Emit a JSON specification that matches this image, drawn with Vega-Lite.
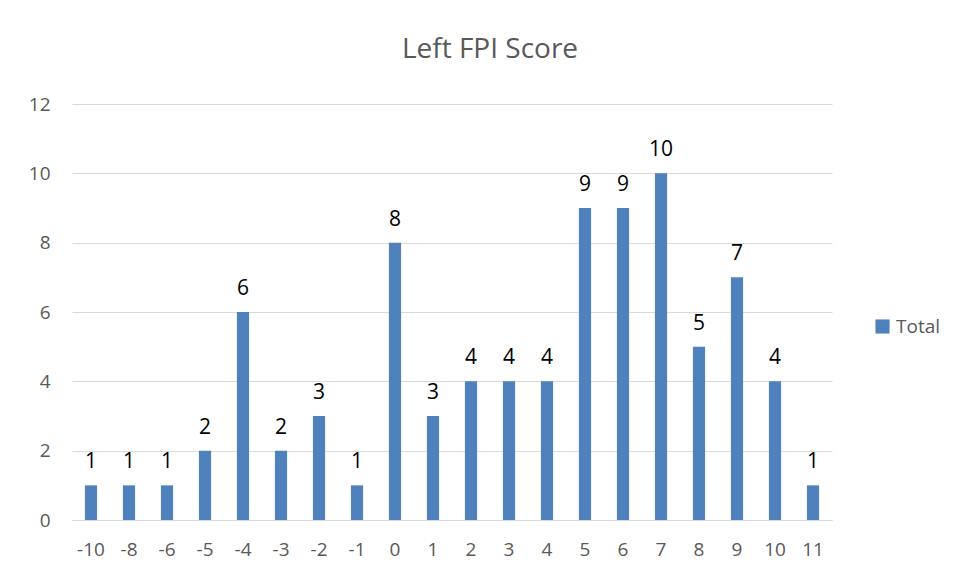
{
  "$schema": "https://vega.github.io/schema/vega-lite/v6.json",
  "width": 760,
  "height": 416,
  "autosize": {"type": "none"},
  "padding": {"left": 72, "top": 104, "right": 125, "bottom": 58},
  "background": "white",
  "config": {"view": {"stroke": null}, "font": "Open Sans"},
  "title": {"text": "Left FPI Score", "fontSize": 28, "font": "Open Sans", "fontWeight": "normal", "color": "#595959", "anchor": "middle", "offset": 31, "dx": 38},
  "data": {"values": [
    {"score": "-10", "count": 1, "series": "Total"},
    {"score": "-8", "count": 1, "series": "Total"},
    {"score": "-6", "count": 1, "series": "Total"},
    {"score": "-5", "count": 2, "series": "Total"},
    {"score": "-4", "count": 6, "series": "Total"},
    {"score": "-3", "count": 2, "series": "Total"},
    {"score": "-2", "count": 3, "series": "Total"},
    {"score": "-1", "count": 1, "series": "Total"},
    {"score": "0", "count": 8, "series": "Total"},
    {"score": "1", "count": 3, "series": "Total"},
    {"score": "2", "count": 4, "series": "Total"},
    {"score": "3", "count": 4, "series": "Total"},
    {"score": "4", "count": 4, "series": "Total"},
    {"score": "5", "count": 9, "series": "Total"},
    {"score": "6", "count": 9, "series": "Total"},
    {"score": "7", "count": 10, "series": "Total"},
    {"score": "8", "count": 5, "series": "Total"},
    {"score": "9", "count": 7, "series": "Total"},
    {"score": "10", "count": 4, "series": "Total"},
    {"score": "11", "count": 1, "series": "Total"}
  ]},
  "encoding": {
    "x": {"field": "score", "type": "ordinal", "sort": null,
      "scale": {"paddingInner": 0.68, "paddingOuter": 0.34},
      "axis": {"title": null, "labelAngle": 0, "labelFontSize": 19, "labelColor": "#595959", "ticks": false, "domainColor": "#d9d9d9", "labelPadding": 20, "labelFont": "Open Sans"}},
    "y": {"field": "count", "type": "quantitative",
      "scale": {"domain": [0, 12]},
      "axis": {"title": null, "values": [0, 2, 4, 6, 8, 10, 12], "labelFontSize": 19, "labelColor": "#595959", "ticks": false, "domain": false, "gridColor": "#d9d9d9", "labelPadding": 22, "labelFont": "Open Sans"}}
  },
  "layer": [
    {"mark": {"type": "bar", "color": "#4f81bd"},
     "encoding": {"color": {"field": "series", "type": "nominal", "scale": {"range": ["#4f81bd"]},
       "legend": {"title": null, "orient": "none", "legendX": 801, "legendY": 213, "labelFontSize": 19, "labelColor": "#595959", "symbolType": "square", "symbolSize": 200, "labelFont": "Open Sans", "symbolStrokeWidth": 0}}}},
    {"mark": {"type": "text", "dy": -23, "fontSize": 21, "color": "black", "font": "Open Sans"},
     "encoding": {"text": {"field": "count", "type": "quantitative"}}}
  ]
}
